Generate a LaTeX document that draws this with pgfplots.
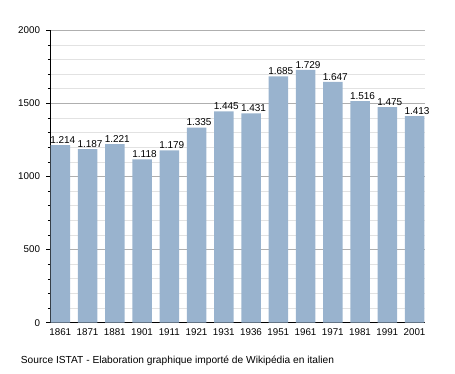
\documentclass[border=0pt]{standalone}
\usepackage{fontspec}
\setmainfont{Liberation Sans}
\usepackage{pgfplots}
\pgfplotsset{compat=1.18}
\definecolor{barblue}{RGB}{153,179,206}
\definecolor{majgrid}{RGB}{175,175,175}
\definecolor{mingrid}{RGB}{226,226,226}
\begin{document}
\begin{tikzpicture}
\path[use as bounding box] (0,0) rectangle (455pt,373pt);
\begin{axis}[
  at={(50pt,50.3pt)}, anchor=south west,
  scale only axis, width=375pt, height=292.4pt,
  xmin=-0.378, xmax=13.385, ymin=0, ymax=2000,
  axis x line*=bottom, axis y line*=left,
  axis line style={black, line width=0.8pt},
  xtick=data,
  xticklabels={1861,1871,1881,1901,1911,1921,1931,1936,1951,1961,1971,1981,1991,2001},
  x tick style={draw=none},
  ytick={0,500,1000,1500,2000},
  minor ytick={100,200,300,400,600,700,800,900,1100,1200,1300,1400,1600,1700,1800,1900},
  ymajorgrids, yminorgrids,
  major grid style={majgrid, line width=0.7pt},
  minor grid style={mingrid, line width=0.7pt},
  tick align=outside,
  major tick length=3.5pt, minor tick length=2pt,
  y tick style={black, line width=0.6pt},
  /pgf/number format/assume math mode=true,
  tick label style={font=\fontsize{9.8}{11}\selectfont},
  yticklabel style={/pgf/number format/1000 sep={}, xshift=-3pt},
  xticklabel style={yshift=1pt},
  ybar, bar width=19.5pt,
  nodes near coords,
  nodes near coords style={font=\fontsize{10}{11}\selectfont, /pgf/number format/1000 sep={.}, /pgf/number format/assume math mode=true, inner sep=1.5pt, yshift=0pt, xshift=2.5pt},
  clip=false,
]
\addplot[fill=barblue, draw=none] coordinates {
(0,1214) (1,1187) (2,1221) (3,1118) (4,1179) (5,1335) (6,1445) (7,1431) (8,1685) (9,1729) (10,1647) (11,1516) (12,1475) (13,1413)
};
\end{axis}
\node[anchor=west, font=\fontsize{10.2}{11}\selectfont, inner sep=0pt] at (20.7pt,12pt) {Source ISTAT - Elaboration graphique importé de Wikipédia en italien};
\end{tikzpicture}
\end{document}
